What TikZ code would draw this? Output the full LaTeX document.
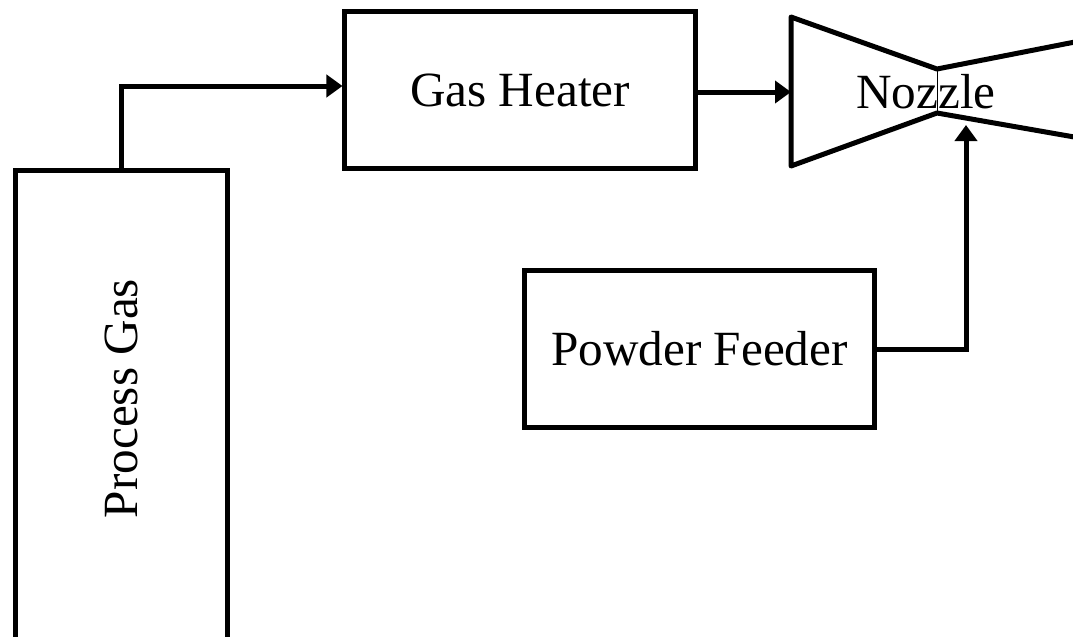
\documentclass[tikz,border=0pt]{standalone}
\usepackage{fontspec}
\setmainfont{Liberation Serif}
\usetikzlibrary{arrows.meta,calc}

\begin{document}
\begin{tikzpicture}[
  x=0.2mm,y=-0.2mm,
  box/.style={draw=black,line width=1mm,fill=white,inner sep=0pt,
              minimum width=70mm,minimum height=31.5mm,align=center,
              font=\fontsize{28}{34}\selectfont},
  arr/.style={-{Triangle[length=3.2mm,width=4.4mm]},line width=1mm,color=black},
  wall/.style={line width=1mm,line join=round}]
  \useasboundingbox (0,0) rectangle (1073,637);

  \node[box,rotate=90,minimum width=96mm,minimum height=42.5mm] (pg) at (121.5,410)
    {\hspace*{4.6mm}Process Gas};
  \node[box] (gh) at (520,90) {Gas Heater};
  \node[box] (pf) at (699.5,349) {Powder Feeder};

  % nozzle outline
  \coordinate (nzin) at (791,91);
  \coordinate (thtop) at (937,69);
  \coordinate (thbot) at (937,113);
  \coordinate (inlet) at (966,125);
  \draw[wall] (1080,41) -- (thtop) -- (791,17) -- (791,166) -- (thbot) -- (1080,138);
  \draw[line width=0.3pt] (thtop) -- (thbot);
  \node[font=\fontsize{28}{34}\selectfont] (nz) at (926,92) {Nozzle};

  \draw[arr] ([yshift=-0.5mm]pg.east) |- ([yshift=0.8mm]gh.west);
  \draw[arr] ([yshift=-0.4mm]gh.east) -- ([yshift=-0.4mm]gh.east -| nzin);
  \draw[arr] (pf.east) -| (inlet);
\end{tikzpicture}
\end{document}
